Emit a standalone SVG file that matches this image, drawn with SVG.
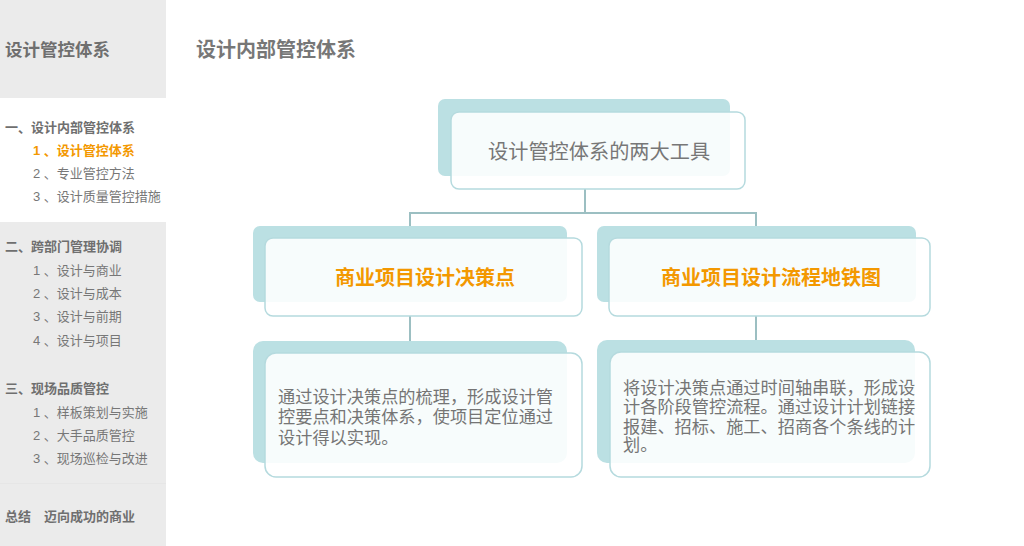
<svg xmlns="http://www.w3.org/2000/svg" width="1024" height="546" viewBox="0 0 1024 546">
<style>
.side{font-family:"Liberation Sans","Noto Sans CJK SC",sans-serif;font-size:13px;fill:#777}
.sh{font-weight:bold;fill:#6f6f6f}
.act{font-weight:bold;fill:#f39800}
.back{fill:#bbe0e3}
.front{fill:#ffffff;fill-opacity:0.88;stroke:#b5dade;stroke-width:1.5}
.conn{stroke:#9cbfc2;stroke-width:2;fill:none}
.body{font-family:"Liberation Sans","Noto Sans CJK SC",sans-serif;font-size:17.2px;fill:#757575}
.head{font-family:"Liberation Sans","Noto Sans CJK SC",sans-serif;font-size:20px;font-weight:bold;fill:#f39800}
</style>
<rect width="1024" height="546" fill="#ffffff"/>
<g id="sidebar">
<rect x="0" y="0" width="166" height="98" fill="#ebebeb"/>
<rect x="0" y="222" width="166" height="324" fill="#ebebeb"/>
<line x1="0" y1="483.5" x2="166" y2="483.5" stroke="#e6e6e6"/>
<text x="5" y="56" class="side sh" style="font-size:17.5px">设计管控体系</text>
<text x="5" y="132" class="side sh">一、设计内部管控体系</text>
<text x="33" y="155" class="side act">1 、设计管控体系</text>
<text x="33" y="178" class="side">2 、专业管控方法</text>
<text x="33" y="201" class="side">3 、设计质量管控措施</text>
<text x="5" y="251" class="side sh">二、跨部门管理协调</text>
<text x="33" y="275" class="side">1 、设计与商业</text>
<text x="33" y="298" class="side">2 、设计与成本</text>
<text x="33" y="321" class="side">3 、设计与前期</text>
<text x="33" y="345" class="side">4 、设计与项目</text>
<text x="5" y="393" class="side sh">三、现场品质管控</text>
<text x="33" y="417" class="side">1 、样板策划与实施</text>
<text x="33" y="440" class="side">2 、大手品质管控</text>
<text x="33" y="463" class="side">3 、现场巡检与改进</text>
<text x="5" y="521" class="side sh">总结　迈向成功的商业</text>
</g>
<text id="title" x="196" y="57" font-family="Liberation Sans,Noto Sans CJK SC,sans-serif" font-size="20" font-weight="bold" fill="#777">设计内部管控体系</text>
<g id="connectors">
<path class="conn" d="M585 189V213M410 226V213H756V226M410 316V341M756 316V341"/>
</g>
<g id="node-top">
<rect class="back" x="438" y="99" width="292" height="77" rx="7"/>
<rect class="front" x="451" y="112" width="294" height="77" rx="8"/>
<text x="488" y="159" font-family="Liberation Sans,Noto Sans CJK SC,sans-serif" font-size="20.2" fill="#777">设计管控体系的两大工具</text>
</g>
<g id="node-decision">
<rect class="back" x="253" y="226" width="314" height="76" rx="7"/>
<rect class="front" x="265" y="238" width="317" height="78" rx="8"/>
<text x="425" y="285" class="head" text-anchor="middle">商业项目设计决策点</text>
</g>
<g id="node-metro">
<rect class="back" x="597" y="226" width="319" height="76" rx="7"/>
<rect class="front" x="609" y="238" width="321" height="78" rx="8"/>
<text x="771" y="285" class="head" text-anchor="middle">商业项目设计流程地铁图</text>
</g>
<g id="node-decision-desc">
<rect class="back" x="253" y="341" width="314" height="122" rx="10"/>
<rect class="front" x="265" y="353" width="317" height="124" rx="11"/>
<text class="body"><tspan x="278" y="403">通过设计决策点的梳理，形成设计管</tspan><tspan x="278" y="423">控要点和决策体系，使项目定位通过</tspan><tspan x="278" y="444">设计得以实现。</tspan></text>
</g>
<g id="node-metro-desc">
<rect class="back" x="597" y="340" width="318" height="123" rx="10"/>
<rect class="front" x="610" y="352" width="320" height="125" rx="11"/>
<text class="body"><tspan x="623" y="394">将设计决策点通过时间轴串联，形成设</tspan><tspan x="623" y="413">计各阶段管控流程。通过设计计划链接</tspan><tspan x="623" y="433">报建、招标、施工、招商各个条线的计</tspan><tspan x="623" y="451">划。</tspan></text>
</g>
</svg>
